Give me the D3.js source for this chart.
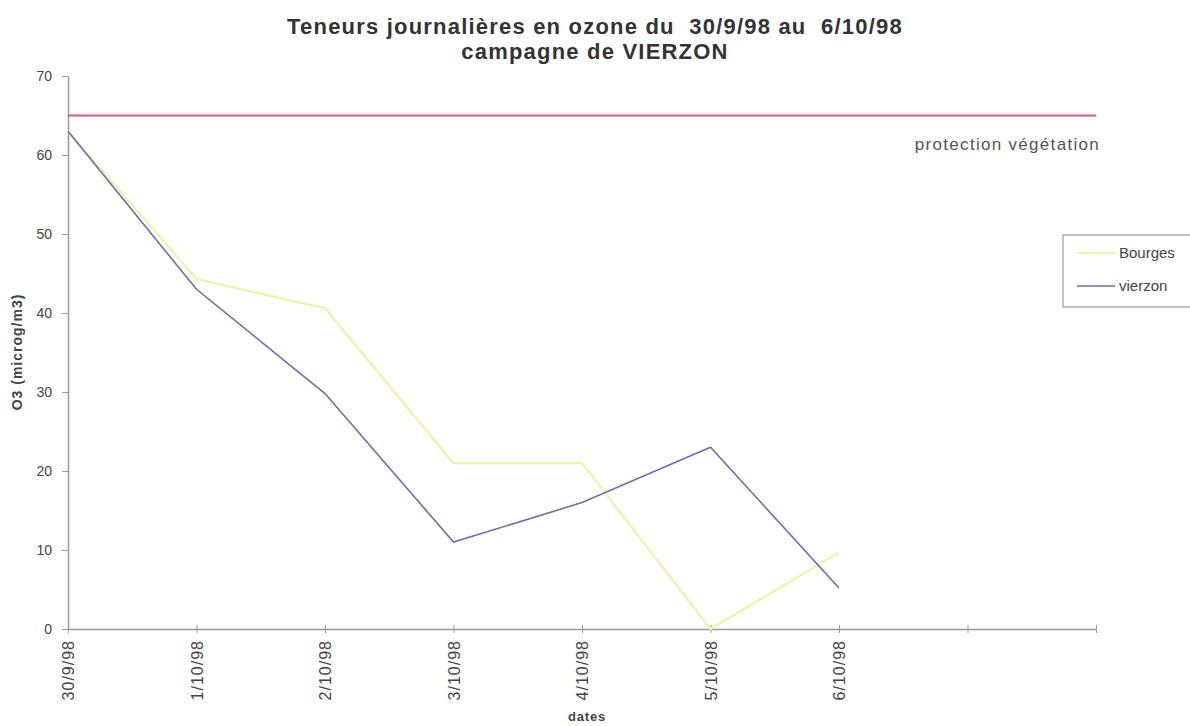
<!DOCTYPE html>
<html><head><meta charset="utf-8">
<script src="https://cdn.jsdelivr.net/npm/d3@7"></script>
<style>body{margin:0;background:#fff}svg{display:block}text{font-family:"Liberation Sans",Arial,sans-serif;white-space:pre}</style>
</head><body><svg id="c" width="1190" height="726"></svg>
<script>
const categories = ["30/9/98","1/10/98","2/10/98","3/10/98","4/10/98","5/10/98","6/10/98","",""];
const bourges = [63, 44.3, 40.6, 21, 21, 0, 9.7];
const vierzon = [63, 43, 29.8, 11, 16, 23, 5.2];
const threshold = 65;
const yTicks = [0,10,20,30,40,50,60,70];
const titleLines = ["Teneurs journalières en ozone du  30/9/98 au  6/10/98","campagne de VIERZON"];

const svg = d3.select("#c");
const x = d3.scalePoint().domain(d3.range(categories.length)).range([68,1096]);
const y = d3.scaleLinear().domain([0,70]).range([629,76]);

// title
svg.selectAll("text.title").data(titleLines).enter().append("text")
  .attr("x",595).attr("y",(d,i)=>34+i*25).attr("text-anchor","middle")
  .attr("font-size",22).attr("font-weight","bold").attr("letter-spacing",1.2)
  .attr("fill","#333").text(d=>d);

// y axis
const ya = svg.append("g").attr("transform","translate(68,0)")
  .call(d3.axisLeft(y).tickValues(yTicks).tickSize(6).tickPadding(10).tickSizeOuter(0));
ya.select(".domain").attr("stroke","#999").attr("stroke-width",1.5);
ya.selectAll(".tick line").attr("stroke","#999");
ya.selectAll(".tick text").attr("font-size",14).attr("fill","#444").attr("font-family","Liberation Sans, Arial, sans-serif");

// x axis
const xa = svg.append("g").attr("transform","translate(0,629)")
  .call(d3.axisBottom(x).tickSize(4).tickSizeOuter(0).tickFormat(i=>categories[i]).tickPadding(8));
xa.select(".domain").attr("stroke","#999").attr("stroke-width",1.5);
xa.selectAll(".tick line").attr("stroke","#999").attr("y1",-4);
xa.selectAll(".tick text").attr("font-size",16).attr("letter-spacing",1).attr("fill","#444")
  .attr("font-family","Liberation Sans, Arial, sans-serif")
  .attr("transform","rotate(-90)").attr("text-anchor","end")
  .attr("x",-11).attr("y",0).attr("dy","0.35em");

// axis titles
svg.append("text").attr("transform","translate(22,352) rotate(-90)").attr("text-anchor","middle")
  .attr("font-size",14).attr("font-weight","bold").attr("letter-spacing",1).attr("fill","#444").text("O3 (microg/m3)");
svg.append("text").attr("x",587).attr("y",721).attr("text-anchor","middle")
  .attr("font-size",13).attr("font-weight","bold").attr("letter-spacing",0.8).attr("fill","#444").text("dates");

// threshold line
svg.append("line").attr("x1",x(0)).attr("x2",x(categories.length-1))
  .attr("y1",y(threshold)).attr("y2",y(threshold))
  .attr("stroke","#e05878").attr("stroke-width",2);
svg.append("text").attr("x",1100).attr("y",150).attr("text-anchor","end")
  .attr("font-size",17).attr("letter-spacing",1.3).attr("fill","#555").text("protection végétation");

const line = d3.line().x((d,i)=>x(i)).y(d=>y(d));
svg.append("path").datum(bourges).attr("d",line).attr("fill","none")
  .attr("stroke","#eef3a6").attr("stroke-width",2.2);
svg.append("path").datum(vierzon).attr("d",line).attr("fill","none")
  .attr("stroke","#6c6cb4").attr("stroke-width",1.6);

// legend
const lg = svg.append("g");
lg.append("rect").attr("x",1063).attr("y",235).attr("width",130).attr("height",72)
  .attr("fill","#fff").attr("stroke","#888").attr("stroke-width",1);
const legItems = [{name:"Bourges",color:"#eef3a6",w:2.2},{name:"vierzon",color:"#6c6cb4",w:1.6}];
legItems.forEach((d,i)=>{
  const yy = 253 + i*33;
  lg.append("line").attr("x1",1077).attr("x2",1115).attr("y1",yy).attr("y2",yy)
    .attr("stroke",d.color).attr("stroke-width",d.w);
  lg.append("text").attr("x",1119).attr("y",yy).attr("dy","0.35em")
    .attr("font-size",15).attr("fill","#444").text(d.name);
});
</script></body></html>
